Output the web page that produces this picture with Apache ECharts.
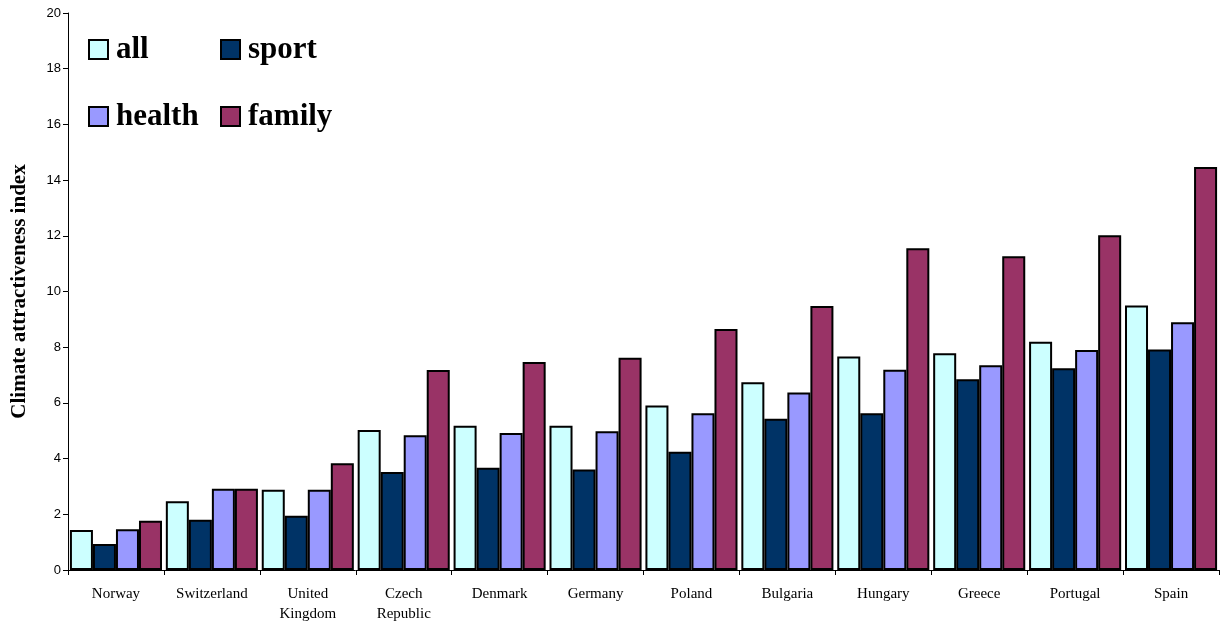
<!DOCTYPE html>
<html>
<head>
<meta charset="utf-8">
<script src="https://cdn.jsdelivr.net/npm/echarts@6/dist/echarts.min.js"></script>
<style>
html,body{margin:0;padding:0;background:#fff;}
#chart{width:1220px;height:621px;}
</style>
</head>
<body>
<div id="chart"></div>
<script>
var categories = ['Norway', 'Switzerland', 'United\nKingdom', 'Czech\nRepublic', 'Denmark', 'Germany', 'Poland', 'Bulgaria', 'Hungary', 'Greece', 'Portugal', 'Spain'];
var allValues    = [1.44, 2.47, 2.88, 5.03, 5.18, 5.18, 5.91, 6.74, 7.67, 7.78, 8.20, 9.50];
var sportValues  = [0.93, 1.80, 1.95, 3.52, 3.67, 3.61, 4.25, 5.43, 5.63, 6.85, 7.24, 7.92];
var healthValues = [1.46, 2.92, 2.88, 4.84, 4.92, 4.98, 5.63, 6.37, 7.19, 7.35, 7.90, 8.90];
var familyValues = [1.77, 2.92, 3.83, 7.18, 7.47, 7.62, 8.65, 9.48, 11.55, 11.27, 12.02, 14.47];
var yTicks = [0, 2, 4, 6, 8, 10, 12, 14, 16, 18, 20];

var colors = {all: '#CCFFFF', sport: '#003366', health: '#9999FF', family: '#993366'};

function legendFor(name, left, top) {
  return {
    data: [name], left: left, top: top, padding: 0, selectedMode: false,
    icon: 'rect', itemWidth: 19, itemHeight: 19,
    itemStyle: {borderColor: '#000', borderWidth: 2},
    textStyle: {fontFamily: 'Liberation Serif', fontWeight: 'bold', fontSize: 31, color: '#000', padding: [0, 0, 0, 3]}
  };
}

function barSeries(name, data) {
  return {
    name: name, type: 'bar', data: data,
    barGap: '0%', barCategoryGap: '4%',
    itemStyle: {color: colors[name], borderColor: '#000', borderWidth: 2},
    emphasis: {disabled: true}
  };
}

var chart = echarts.init(document.getElementById('chart'), null, {renderer: 'canvas'});
chart.setOption({
  animation: false,
  backgroundColor: '#fff',
  legend: [
    legendFor('all', 88, 34),
    legendFor('sport', 220, 34),
    legendFor('health', 88, 101),
    legendFor('family', 220, 101)
  ],
  grid: {left: 68, right: 1, top: 13, bottom: 51, containLabel: false, outerBoundsMode: 'none'},
  xAxis: {
    type: 'category', data: categories,
    axisLine: {lineStyle: {color: '#000', width: 1}},
    axisTick: {show: true, length: 5, alignWithLabel: false, lineStyle: {color: '#000'}},
    axisLabel: {fontFamily: 'Liberation Serif', fontSize: 15, lineHeight: 20, color: '#000', margin: 14, interval: 0}
  },
  yAxis: {
    type: 'value', min: yTicks[0], max: yTicks[yTicks.length - 1], interval: 2,
    name: 'Climate attractiveness index', nameLocation: 'middle', nameGap: 38,
    nameTextStyle: {fontFamily: 'Liberation Serif', fontWeight: 'bold', fontSize: 21, color: '#000'},
    axisLine: {show: true, lineStyle: {color: '#000', width: 1}},
    axisTick: {show: true, length: 5, lineStyle: {color: '#000'}},
    splitLine: {show: false},
    axisLabel: {fontFamily: 'Liberation Sans', fontSize: 13, color: '#000', margin: 7}
  },
  series: [
    barSeries('all', allValues),
    barSeries('sport', sportValues),
    barSeries('health', healthValues),
    barSeries('family', familyValues)
  ]
});
</script>
</body>
</html>
